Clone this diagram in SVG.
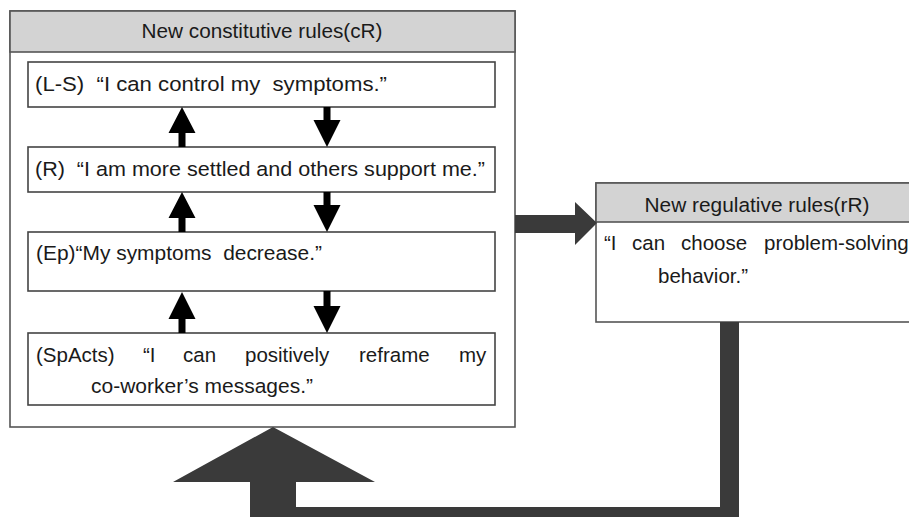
<svg xmlns="http://www.w3.org/2000/svg" width="909" height="519" viewBox="0 0 909 519">
<style>
.t{font-family:"Liberation Sans",Arial,sans-serif;font-size:20.5px;fill:#1a1a1a}
.outer{fill:#fff;stroke:#555;stroke-width:1.6}
.hdr{fill:#d3d3d3;stroke:#555;stroke-width:1.6}
.inner{fill:#fff;stroke:#444;stroke-width:1.6}
.ar{fill:#000}
.big{fill:#3a3a3a}
</style>
<rect width="909" height="519" fill="#fff"/>
<g id="constitutive">
<rect class="outer" x="10" y="11" width="505" height="416"/>
<rect class="hdr" x="10" y="11" width="505" height="41"/>
<text class="t" x="262" y="38" text-anchor="middle" textLength="241" lengthAdjust="spacingAndGlyphs">New constitutive rules(cR)</text>
</g>
<g id="ls">
<rect class="inner" x="28" y="62" width="467" height="45"/>
<text class="t" x="35" y="91" xml:space="preserve" textLength="352" lengthAdjust="spacingAndGlyphs">(L-S)  “I can control my  symptoms.”</text>
</g>
<g id="r">
<rect class="inner" x="28" y="147" width="467" height="45"/>
<text class="t" x="35" y="176" xml:space="preserve" textLength="450" lengthAdjust="spacingAndGlyphs">(R)  “I am more settled and others support me.”</text>
</g>
<g id="ep">
<rect class="inner" x="28" y="232" width="467" height="59"/>
<text class="t" x="36" y="260" xml:space="preserve" textLength="286" lengthAdjust="spacingAndGlyphs">(Ep)“My symptoms  decrease.”</text>
</g>
<g id="spacts">
<rect class="inner" x="28" y="333" width="467" height="72"/>
<text class="t" y="362"><tspan x="36">(SpActs)</tspan><tspan x="143">“I</tspan><tspan x="183">can</tspan><tspan x="245">positively</tspan><tspan x="359">reframe</tspan><tspan x="459">my</tspan></text>
<text class="t" x="91" y="393" textLength="222" lengthAdjust="spacingAndGlyphs">co-worker’s messages.”</text>
</g>
<g id="regulative">
<rect class="outer" x="596" y="183" width="330" height="139"/>
<rect class="hdr" x="596" y="183" width="330" height="39"/>
<text class="t" x="757" y="212" text-anchor="middle" textLength="225" lengthAdjust="spacingAndGlyphs">New regulative rules(rR)</text>
<text class="t" y="250"><tspan x="604">“I</tspan><tspan x="632">can</tspan><tspan x="681">choose</tspan><tspan x="764">problem-solving</tspan></text>
<text class="t" x="658" y="283">behavior.”</text>
</g>
<g id="connectors">
<path class="ar" d="M182,107 L195.5,133 L185.5,133 L185.5,147 L178.5,147 L178.5,133 L168.5,133 Z"/>
<path class="ar" d="M323.5,107 L330.5,107 L330.5,120 L340.5,120 L327,147 L313.5,120 L323.5,120 Z"/>
<path class="ar" d="M182,192 L195.5,218 L185.5,218 L185.5,232 L178.5,232 L178.5,218 L168.5,218 Z"/>
<path class="ar" d="M323.5,192 L330.5,192 L330.5,205 L340.5,205 L327,232 L313.5,205 L323.5,205 Z"/>
<path class="ar" d="M182,292 L195.5,319 L185.5,319 L185.5,333 L178.5,333 L178.5,319 L168.5,319 Z"/>
<path class="ar" d="M323.5,291 L330.5,291 L330.5,306 L340.5,306 L327,333 L313.5,306 L323.5,306 Z"/>
<path class="big" d="M515,215 L575,215 L575,202 L597,223 L575,245 L575,233 L515,233 Z"/>
<path class="big" d="M273,427 L375,482 L296,482 L296,507 L720,507 L720,322 L739,322 L739,517 L250,517 L250,482 L173,482 Z"/>
</g>
</svg>
